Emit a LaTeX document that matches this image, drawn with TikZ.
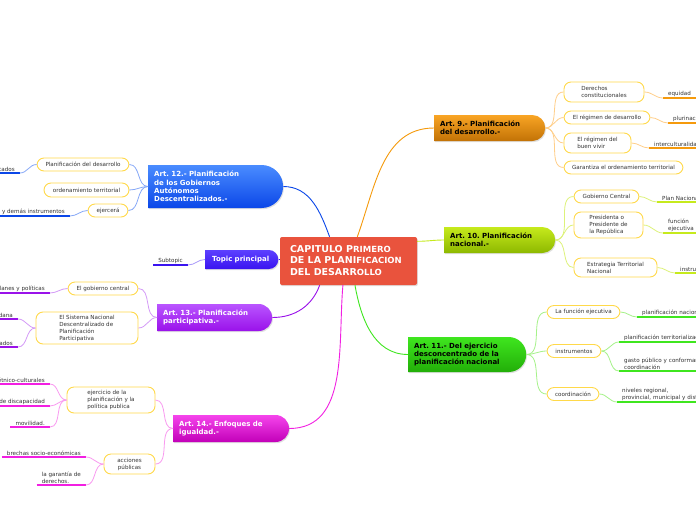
\documentclass[tikz,border=0pt]{standalone}
\usepackage{fontspec}
\setmainfont{DejaVu Sans}
\usetikzlibrary{shapes.misc,shadows}
\frenchspacing

\definecolor{capcol}{HTML}{E9533D}
\definecolor{txt}{HTML}{333333}
\definecolor{subline}{HTML}{FFD94A}
\definecolor{t9}{HTML}{F9A524}
\definecolor{b9}{HTML}{C27206}
\definecolor{b10}{HTML}{8DB800}
\definecolor{b11}{HTML}{22AE08}
\definecolor{t12}{HTML}{4A8CFF}
\definecolor{ttp}{HTML}{5C40FF}
\definecolor{t13}{HTML}{B955FF}
\definecolor{t14}{HTML}{F545EC}
\definecolor{b14}{HTML}{C200B8}
\definecolor{u9}{HTML}{F59A0C}
\definecolor{l9}{HTML}{FFCF8A}
\definecolor{u10}{HTML}{C6EA1C}
\definecolor{l10}{HTML}{DDF27A}
\definecolor{u11}{HTML}{3FE61F}
\definecolor{l11}{HTML}{A6F28A}
\definecolor{u12}{HTML}{0B47E8}
\definecolor{l12}{HTML}{86A8F7}
\definecolor{utp}{HTML}{3A14F0}
\definecolor{ltp}{HTML}{A99AFA}
\definecolor{u13}{HTML}{9A12EA}
\definecolor{l13}{HTML}{D49BF7}
\definecolor{u14}{HTML}{F21FE2}
\definecolor{l14}{HTML}{F99AF0}

\tikzset{
  topic/.style={rounded rectangle, rounded rectangle west arc=none, anchor=west, align=left,
    inner xsep=6pt, inner ysep=2pt, font=\fontsize{7}{8.3}\selectfont\bfseries,
    drop shadow={opacity=.25,shadow xshift=.8pt,shadow yshift=-1.2pt}},
  sub/.style={draw=subline, line width=.9pt, fill=white, rounded corners=7pt, minimum height=13pt,
    inner sep=1pt, align=left, text=txt, font=\fontsize{5.6}{7}\selectfont},
  leaf/.style={inner xsep=5pt, inner ysep=1.5pt, align=left, text=txt, font=\fontsize{5.6}{7}\selectfont,
    append after command={(\tikzlastnode.south west) edge[draw=#1,line width=2pt] (\tikzlastnode.south east)}},
  main/.style={draw=#1, line width=.9pt},
  rlink/.style={draw=#1, line width=.8pt, out=0, in=180},
  llink/.style={draw=#1, line width=.8pt, out=180, in=0},
}

\begin{document}
\begin{tikzpicture}[x=1pt,y=-1pt]
	\fill[white] (0,0) rectangle (696,520);
	\useasboundingbox (0,0) rectangle (696,520);
	\clip (0,0) rectangle (696,520);

	\node[fill=capcol, text=white, rounded corners=2pt, text width=117pt, minimum height=48pt, inner xsep=10pt,
		align=left, font=\bfseries, drop shadow={opacity=.25,shadow xshift=.8pt,shadow yshift=-1.2pt}] (cap) at (348.5,261)
		{\fontsize{9.5}{11}\selectfont CAPITULO P{\fontsize{8.5}{11}\selectfont RIMERO}\\DE LA PLANI{\fontsize{8.5}{11}\selectfont FICACION}\\DEL DESARR{\fontsize{8.5}{11}\selectfont OLLO}};

	\node[topic, top color=t9, bottom color=b9, text width=97pt, minimum height=26pt] (a9) at (434,128) {Art. 9.- Planificación\\del desarrollo.-};
	\node[topic, top color=u10, bottom color=b10, text width=97pt, minimum height=26pt] (a10) at (444,240) {Art. 10. Planificación\\nacional.-};
	\node[topic, top color=u11, bottom color=b11, text width=101.5pt, minimum height=35pt] (a11) at (408,354.5) {Art. 11.- Del ejercicio\\desconcentrado de la\\planificación nacional};
	\node[topic, top color=t12, bottom color=u12, text=white, text width=116.5pt, minimum height=43pt] (a12) at (148,186.5) {Art. 12.- Planificación\\de los Gobiernos\\Autónomos\\Descentralizados.-};
	\node[topic, top color=ttp, bottom color=utp, text=white, text width=58.5pt, minimum height=19pt, inner xsep=7pt] (tp) at (205,259.5) {Topic principal};
	\node[topic, top color=t13, bottom color=u13, text=white, text width=100.5pt, minimum height=27pt] (a13) at (157,317.5) {Art. 13.- Planificación\\participativa.-};
	\node[topic, top color=t14, bottom color=b14, text=white, text width=101.5pt, minimum height=27pt] (a14) at (173,428.5) {Art. 14.- Enfoques de\\igualdad.-};

	\node[sub, minimum width=80pt, minimum height=20pt] (c9a) at (604,92) {Derechos\\constitucionales};
	\node[sub, minimum width=86pt] (c9b) at (607,117.5) {El régimen de desarrollo};
	\node[sub, minimum width=67pt, minimum height=20pt] (c9c) at (597.5,143) {El régimen del\\buen vivir};
	\node[sub, minimum width=119pt] (c9d) at (623.5,167.5) {Garantiza el ordenamiento territorial};
	\node[leaf=u9, anchor=south west] (g9a) at (663,98) {equidad};
	\node[leaf=u9, anchor=south west, text width=40pt] (g9b) at (668,123) {plurinaci};
	\node[leaf=u9, anchor=south west, text width=50pt] (g9c) at (649,148) {interculturalidad};

	\node[sub, minimum width=65pt] (c10a) at (606.5,196.5) {Gobierno Central};
	\node[sub, minimum width=69pt, minimum height=26pt] (c10b) at (608.5,225) {Presidenta o\\Presidente de\\la República};
	\node[sub, minimum width=83pt, minimum height=19pt] (c10c) at (615.5,267.5) {Estrategia Territorial\\Nacional};
	\node[leaf=u10, anchor=south west, text width=45pt] (g10a) at (657,202) {Plan Naciona};
	\node[leaf=u10, anchor=south west, text width=40pt] (g10b) at (663,233) {función\\ejecutiva};
	\node[leaf=u10, anchor=south west, text width=30pt] (g10c) at (675,273) {instru};

	\node[sub, minimum width=73pt] (c11a) at (583.5,312) {La función ejecutiva};
	\node[sub, minimum width=54pt] (c11b) at (574,351) {instrumentos};
	\node[sub, minimum width=52pt] (c11c) at (573,394) {coordinación};
	\node[leaf=u11, anchor=south west, text width=65pt] (g11a) at (637,317) {planificación nacion};
	\node[leaf=u11, anchor=south west, text width=85pt] (g11b) at (619,342) {planificación territorializac};
	\node[leaf=u11, anchor=south west, text width=85pt] (g11c) at (619,371) {gasto público y conformar\\coordinación};
	\node[leaf=u11, anchor=south west, text width=85pt] (g11d) at (617,402) {niveles regional,\\provincial, municipal y dist};

	\node[sub, minimum width=92pt] (c12a) at (83,164.5) {Planificación del desarrollo};
	\node[sub, minimum width=85pt, minimum height=14pt] (c12b) at (86.5,190) {ordenamiento territorial};
	\node[sub, minimum width=40pt] (c12c) at (108,210.5) {ejercerá};
	\node[leaf=u12, anchor=south east] (g12a) at (20,173) {cados};
	\node[leaf=u12, anchor=south east] (g12b) at (70,216) {s y demás instrumentos};

	\node[leaf=utp, anchor=south east] (sbt) at (188,265) {Subtopic};

	\node[sub, minimum width=70pt] (c13a) at (103,288.5) {El gobierno central};
	\node[sub, minimum width=102pt, minimum height=32pt] (c13b) at (87,328) {El Sistema Nacional\\Descentralizado de\\Planificación\\Participativa};
	\node[leaf=u13, anchor=south east] (g13a) at (50,293) {lanes y políticas};
	\node[leaf=u13, anchor=south east] (g13b) at (18,319) {dana};
	\node[leaf=u13, anchor=south east] (g13c) at (18,347) {ados};

	\node[sub, minimum width=88pt, minimum height=26pt] (c14a) at (111,400) {ejercicio de la\\planificación y la\\política publica};
	\node[sub, minimum width=51pt, minimum height=20pt, align=center] (c14b) at (129.5,464) {acciones\\públicas};
	\node[leaf=u14, anchor=south east] (g14a) at (50,384) {étnico-culturales};
	\node[leaf=u14, anchor=south east] (g14b) at (50,406) {de discapacidad};
	\node[leaf=u14, anchor=south east] (g14c) at (50,427) {movilidad.};
	\node[leaf=u14, anchor=south east] (g14d) at (86,457) {brechas socio-económicas};
	\node[leaf=u14, anchor=south east] (g14e) at (86,485) {la garantía de\\derechos.};

	\path (cap.70) edge[main=u9, out=70, in=180] (a9.west)
		(cap.16) edge[main=u10, out=0, in=180] (a10.west)
		(cap.-75) edge[main=u11, out=-80, in=180] (a11.west)
		(cap.128) edge[main=u12, out=110, in=0] (a12.east)
		(tp.east) edge[main=utp] (cap.west |- tp.east)
		(cap.-140) edge[main=u13, out=-110, in=0] (a13.east)
		(cap.-103) edge[main=u14, out=-95, in=0] (a14.east);

	\path (a9.east) edge[rlink=l9] (c9a.west) edge[rlink=l9] (c9b.west) edge[rlink=l9] (c9c.west) edge[rlink=l9] (c9d.west)
		(c9a.east) edge[rlink=l9] (g9a.south west)
		(c9b.east) edge[rlink=l9] (g9b.south west)
		(c9c.east) edge[rlink=l9] (g9c.south west);
	\path (a10.east) edge[rlink=l10] (c10a.west) edge[rlink=l10] (c10b.west) edge[rlink=l10] (c10c.west)
		(c10a.east) edge[rlink=l10] (g10a.south west)
		(c10b.east) edge[rlink=l10] (g10b.south west)
		(c10c.east) edge[rlink=l10] (g10c.south west);
	\path (a11.east) edge[rlink=l11] (c11a.west) edge[rlink=l11] (c11b.west) edge[rlink=l11] (c11c.west)
		(c11a.east) edge[rlink=l11] (g11a.south west)
		(c11b.east) edge[rlink=l11] (g11b.south west) edge[rlink=l11] (g11c.south west)
		(c11c.east) edge[rlink=l11] (g11d.south west);
	\path (a12.west) edge[llink=l12] (c12a.east) edge[llink=l12] (c12b.east) edge[llink=l12] (c12c.east)
		(c12a.west) edge[llink=l12] (g12a.south east)
		(c12c.west) edge[llink=l12] (g12b.south east);
	\path (tp.west) edge[llink=ltp] (sbt.south east);
	\path (a13.west) edge[llink=l13] (c13a.east) edge[llink=l13] (c13b.east)
		(c13a.west) edge[llink=l13] (g13a.south east)
		(c13b.west) edge[llink=l13] (g13b.south east) edge[llink=l13] (g13c.south east);
	\path (a14.west) edge[llink=l14] (c14a.east) edge[llink=l14] (c14b.east)
		(c14a.west) edge[llink=l14] (g14a.south east) edge[llink=l14] (g14b.south east) edge[llink=l14] (g14c.south east)
		(c14b.west) edge[llink=l14] (g14d.south east) edge[llink=l14] (g14e.south east);
\end{tikzpicture}
\end{document}
